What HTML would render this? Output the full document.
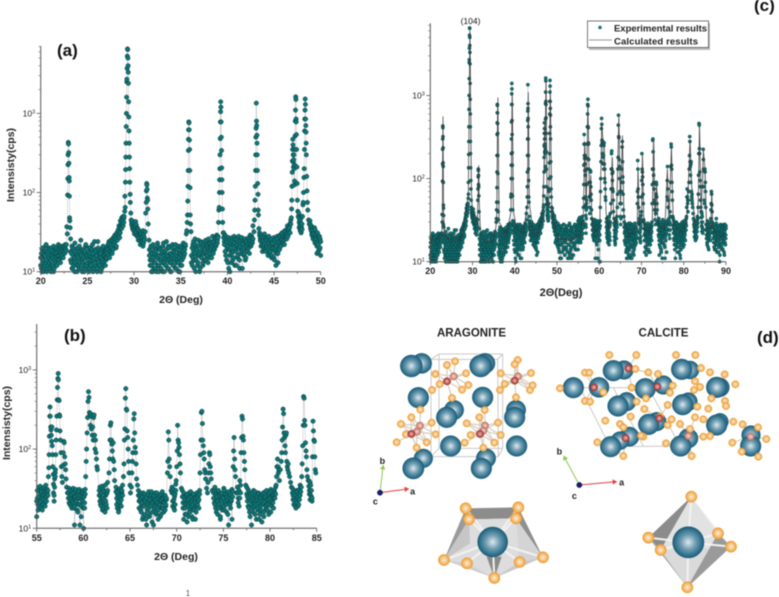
<!DOCTYPE html>
<html lang="en">
<head>
<meta charset="utf-8">
<title>XRD patterns and crystal structures of aragonite and calcite</title>
<style>
html,body{margin:0;padding:0;background:#fff;width:779px;height:597px;overflow:hidden}
svg{display:block;filter:blur(0.4px);font-family:"Liberation Sans",sans-serif}
</style>
</head>
<body>
<svg id="figure" xmlns="http://www.w3.org/2000/svg" width="779" height="597" viewBox="0 0 779 597">
<defs>
<radialGradient id="blueAtom" cx="50%" cy="50%" r="52%"><stop offset="0" stop-color="#dfe9ec"/><stop offset="0.45" stop-color="#6f9db2"/><stop offset="0.85" stop-color="#2b6c88"/><stop offset="1" stop-color="#175670"/></radialGradient>
<radialGradient id="orangeAtom" cx="50%" cy="50%" r="52%"><stop offset="0" stop-color="#fbeedd"/><stop offset="0.55" stop-color="#f6c27d"/><stop offset="1" stop-color="#ee9a2c"/></radialGradient>
<radialGradient id="redAtom" cx="50%" cy="50%" r="52%"><stop offset="0" stop-color="#e8c4c0"/><stop offset="0.6" stop-color="#c0605c"/><stop offset="1" stop-color="#a02c30"/></radialGradient>
<radialGradient id="paleRedAtom" cx="50%" cy="50%" r="52%"><stop offset="0" stop-color="#f0dcd2"/><stop offset="0.6" stop-color="#d99a8c"/><stop offset="1" stop-color="#bf6a60"/></radialGradient>
</defs>
<g id="panel-a"></g>
<g id="panel-b"></g>
<g id="panel-c"></g>
<g id="panel-d" transform="translate(370 310) scale(0.33333)"></g>
<text x="57" y="56" font-size="17" font-weight="bold" fill="#111">(a)</text>
<text x="64" y="341" font-size="17" font-weight="bold" fill="#111">(b)</text>
<text x="754" y="11" font-size="17" font-weight="bold" fill="#111">(c)</text>
<text x="757" y="343" font-size="17" font-weight="bold" fill="#111">(d)</text>
<text x="470.5" y="24" font-size="8.5" text-anchor="middle" fill="#111">(104)</text>
<g>
<rect x="589" y="23" width="121" height="27" fill="#bbb"/>
<rect x="587.5" y="21" width="121" height="26.5" fill="#fff" stroke="#555" stroke-width="0.8"/>
<circle cx="600" cy="27.5" r="1.7" fill="#0e7370"/>
<text x="614" y="31.5" font-size="9.5" font-weight="bold" fill="#222" textLength="93">Experimental results</text>
<line x1="589" y1="40" x2="612" y2="40" stroke="#777" stroke-width="0.8"/>
<text x="614" y="44.5" font-size="9.5" font-weight="bold" fill="#222" textLength="84">Calculated results</text>
</g>
<text x="471.5" y="336.5" font-size="12" font-weight="bold" text-anchor="middle" fill="#222" textLength="69" lengthAdjust="spacingAndGlyphs">ARAGONITE</text>
<text x="663.5" y="336.5" font-size="12" font-weight="bold" text-anchor="middle" fill="#222" textLength="50" lengthAdjust="spacingAndGlyphs">CALCITE</text>
<text x="188" y="596" font-size="8" text-anchor="middle" fill="#555">1</text>
</svg>
<script>
/* ---------- chart a: 20-50 deg ---------- */
const aXTicks = [20,25,30,35,40,45,50];
const aBackgroundStarts = [20,23.2,27,29.75,31.65,36.15,39.6,43.45,47.65,48.85];
const aBackgroundEnds = [22.7,27,28.9,31.1,35.5,39,42.75,46.8,48,50];
const aBackgroundCounts = [
[12,17,10,20,14,11,16,21,13,10,18,12,15,19,11,14,20,16,12,10,17,13,19,15,18,14,22,16,19,17,20,15,21,18,20,17,22,19],
[18,13,21,11,16,19,10,14,17,12,20,15,11,18,13,25,16,10,14,19,12,17,21,11,15,13,18,10,16,20,12,14,22,17,11,15,19,13,16,10,24,14,18,12,17,15,11,20,13,16,18,12,19],
[14,19,17,22,16,23,18,25,20,17,24,27,22,29,26,21,31,28,34,38,27,44,36,48,40,50,42],
[42,36,40,33,38,35,43,31,36,29,34,27,32,30,24,28,26,33,23,27],
[19,14,21,12,17,10,15,20,13,11,18,16,23,12,10,14,19,11,17,13,21,15,10,18,12,24,14,16,11,20,13,17,10,15,22,12,18,14,11,19,16,13,21,10,15,17,12,20,14,18,23,16,19,21],
[13,20,15,24,11,17,22,14,19,12,25,16,10,18,23,15,21,13,17,24,19,14,22,16,20,26,18,15,23,19,21,28,17,24,20,26,22,29,25,28],
[31,24,29,16,26,20,13,27,19,10,23,17,25,14,22,28,12,21,18,26,15,24,20,11,23,17,27,19,22,16,25,14,21,24,18,26,20,23,29,22,27,24,38],
[31,27,24,29,22,26,20,28,23,18,25,21,27,19,24,17,22,26,16,23,20,15,25,18,12,21,28,17,24,20,29,22,26,31,23,28,25,33,27,30,26,38,31,34,36,41,45],
[55,42,38,33,46,31,36,40],
[44,37,33,30,36,27,31,25,34,28,24,17,30,22,27,19,26,16]
];
const aBackgroundCountsSecondSweep = [
[15,11,19,13,10,16,12,18,22,14,11,17,20,13,16,10,12,18,15,21,11,14,17,20,12,16,19,14,21,13,18,16,19,15,21,17,20,18],
[14,17,11,20,12,15,23,13,18,10,16,12,21,14,17,11,19,13,15,10,18,22,12,16,14,20,11,17,13,15,19,10,14,24,12,18,16,11,20,13,17,15,10,19,14,21,12,16,18,15],
[17,15,21,19,24,15,20,22,18,26,19,23,28,24,20,30,25,33,29,36,31,41,35,45,38,47],
[39,44,34,41,30,37,32,39,28,35,25,31,29,22,30,24,27,21,29,25],
[16,12,18,10,14,22,11,17,13,19,10,15,21,12,16,20,11,14,18,10,23,13,16,12,19,15,11,21,14,17,10,13,20,16,12,18,15,22,11,14,19,13,17,10,21,16,12,18,15,20,17,22],
[16,12,22,18,14,26,10,20,16,13,21,17,11,24,15,19,12,22,18,14,25,16,21,13,19,23,17,20,15,24,18,22,19,27,21,25,23,27],
[27,22,18,28,14,24,21,11,25,16,20,13,27,18,15,23,26,19,12,22,16,28,14,21,25,18,11,24,20,17,26,15,23,19,22,27,17,25,21,28,23,26],
[29,25,21,27,18,24,22,30,19,26,20,23,16,28,21,18,25,15,22,19,27,14,20,24,17,26,13,23,19,28,21,25,30,24,27,22,32,26,29,35,28,33,37,31,40],
[48,36,44,35,41,32,50,34],
[40,35,38,29,33,26,30,36,23,29,26,21,31,18,25,28,20,24]
];
const aPeakAngles = [22.75,22.8,22.85,22.88,22.9,22.92,22.94,22.96,22.98,23,23.02,23.04,23.06,23.08,23.1,23.12,23.15,23.2,
28.95,29,29.02,29.05,29.07,29.1,29.12,29.14,29.16,29.18,29.2,29.22,29.24,29.26,29.28,29.3,29.32,29.34,29.36,29.38,29.4,29.42,29.44,29.46,29.48,29.5,29.52,29.55,29.58,29.6,29.65,29.7,
31.2,31.25,31.3,31.33,31.36,31.38,31.4,31.42,31.45,31.48,31.52,31.6,
35.6,35.65,35.7,35.73,35.76,35.78,35.8,35.82,35.84,35.85,35.87,35.89,35.91,35.93,35.95,35.97,36,36.02,36.05,36.1,
39.05,39.08,39.12,39.15,39.17,39.19,39.21,39.23,39.25,39.27,39.29,39.31,39.33,39.35,39.37,39.39,39.41,39.44,39.47,39.5,39.55,
42.85,42.9,42.93,42.96,42.99,43.02,43.04,43.06,43.08,43.1,43.12,43.14,43.16,43.18,43.2,43.22,43.25,43.28,43.3,43.33,43.38,
46.85,46.88,46.9,46.93,46.95,46.97,46.99,47.01,47.03,47.05,47.07,47.09,47.11,47.13,47.15,47.17,47.2,47.22,47.24,47.26,47.28,47.3,47.32,47.34,47.36,47.38,47.4,47.42,47.45,47.48,47.5,47.55,47.6,
48.05,48.1,48.13,48.16,48.2,48.23,48.26,48.28,48.3,48.32,48.34,48.36,48.38,48.4,48.42,48.44,48.46,48.5,48.53,48.57,48.62,48.7,48.78];
const aPeakCounts = [22,37,30,93,150,225,300,430,410,320,235,155,140,90,48,44,36,26,
50,58,90,65,135,195,280,420,680,1000,1600,2500,2700,3700,5300,6500,6400,5000,4000,3300,2400,1400,900,600,420,280,200,135,95,75,55,45,
32,55,75,105,130,125,110,85,80,62,40,25,
30,33,42,52,78,120,190,340,470,620,780,760,620,460,350,190,115,52,40,32,
42,60,65,100,145,200,300,480,780,1050,1400,1200,780,500,340,205,145,100,62,42,31,
32,45,60,80,120,190,300,500,650,1350,800,700,530,420,300,190,130,95,60,52,35,
48,62,80,120,180,250,350,470,400,300,240,210,260,300,200,125,140,220,350,520,800,1100,1620,1500,850,780,540,350,210,130,80,58,50,
50,70,75,100,155,200,350,600,850,1100,1520,1300,850,700,580,420,300,160,105,75,60,45,40];

/* ---------- chart b: 55-85 deg ---------- */
const bXTicks = [55,60,65,70,75,80,85];
const bBackgroundStarts = [55,56.8,58.4,61.7,63.5,65.9,69.5,70.6,73.95,76.5,77.5,82.4,84.15];
const bBackgroundEnds = [56.2,56.98,60.2,62.6,64.2,68.9,69.9,72.45,76,76.85,80.6,83.3,84.5];
const bBackgroundCounts = [
[14,24,20,33,19,27,22,31,17,26,23,29,21,35,25,28,30],
[28,22,42,50],
[28,21,30,24,19,27,22,32,18,25,21,29,23,17,26,20,31,11,24,19,28,22,30,25,18,27],
[30,22,27,19,34,24,18,29,21,16,26,20,28,38],
[33,24,18,29,17,26,21,32,19,28,35],
[30,22,26,17,24,20,13,28,19,23,15,25,11,21,27,18,14,24,20,29,16,22,11,26,19,23,15,28,21,17,25,20,14,27,22,18,24,16,21,26,19,23],
[33,22,28,18,25,20,36],
[30,21,13,25,18,23,15,27,20,14,24,17,29,19,22,13,26,18,24,21,16,28,20,25,23,30],
[28,21,33,18,26,23,15,29,20,24,13,27,22,17,25,19,30,21,26,16,23,28,11,24,20,27,22,13,29],
[33,24,19,40,28],
[33,25,19,29,16,27,22,11,24,18,30,21,15,26,20,23,17,28,13,25,19,22,12,27,21,16,24,29,18,23,20,26,15,28,22,31,19,25,21,27,30,24,33],
[32,26,20,28,22,18,30,24,19,27,23,35,29],
[40,30,23,35,25,22]
];
const bBackgroundCountsSecondSweep = [
[22,30,17,25,21,34,18,29,24,20,27,33,19,28,22,31,26],
[36,26,33,45],
[24,32,20,26,23,18,30,21,28,19,25,31,22,27,16,24,29,20,26,14,23,28,18,25,21,31],
[26,33,20,24,28,17,31,23,19,35,22,27,18,30],
[29,20,27,22,16,31,19,25,23,30,26],
[26,18,23,28,16,21,25,14,19,27,22,13,24,17,20,29,15,23,19,26,12,21,25,18,22,28,16,20,24,13,19,26,22,15,23,29,18,21,25,17,20,24],
[28,19,31,23,17,27,30],
[25,18,28,22,15,20,26,12,23,19,28,16,21,25,14,20,27,17,22,13,24,19,26,22,18,27],
[24,31,20,27,16,25,22,30,18,26,14,23,28,19,24,32,17,22,27,20,25,15,29,21,26,18,23,31,25],
[28,21,30,24,35],
[27,22,31,18,24,14,26,20,28,16,23,19,29,22,13,25,18,27,21,15,24,17,26,20,28,14,22,25,19,30,17,23,27,20,24,16,29,22,26,18,24,28,27],
[28,23,30,24,19,26,21,29,25,20,31,26,33],
[34,27,38,26,30,24]
];
const bPeakAngles = [56.25,56.3,56.33,56.36,56.4,56.43,56.46,56.5,56.53,56.56,56.6,56.63,56.66,56.7,56.73,56.78,
57,57.05,57.08,57.12,57.15,57.2,57.23,57.27,57.3,57.33,57.36,57.4,57.43,57.47,57.5,57.54,57.6,57.65,57.7,57.75,57.8,57.85,57.9,57.95,58,58.05,58.1,58.15,58.2,58.3,
59.05,60.02,60.25,60.3,60.35,60.4,60.45,60.5,60.55,60.6,60.65,60.7,60.75,60.8,60.85,60.9,60.95,61,61.05,61.1,61.15,61.2,61.25,61.3,61.35,61.4,61.45,61.5,
62.75,62.8,62.85,62.9,62.95,63,63.05,63.1,63.15,63.2,63.25,63.3,63.35,
64.3,64.35,64.4,64.45,64.5,64.55,64.6,64.65,64.7,64.75,64.8,64.85,64.9,65,65.05,65.15,65.2,65.25,65.3,65.35,65.4,65.45,65.5,65.55,65.6,65.65,65.7,65.8,
69,69.05,69.1,69.15,69.2,69.25,69.3,69.4,
69.95,70,70.05,70.1,70.15,70.2,70.25,70.3,70.35,70.4,70.5,
72.5,72.55,72.6,72.65,72.7,72.75,72.8,72.85,72.9,72.95,73,73.05,73.1,73.2,73.3,73.35,73.4,73.45,73.5,73.55,73.6,73.65,73.7,73.8,
76.05,76.1,76.15,76.2,76.25,76.3,76.4,
76.9,76.95,77,77.05,77.1,77.15,77.2,77.25,77.3,77.4,
80.65,80.7,80.75,80.8,80.85,80.9,80.95,81,81.1,81.2,81.25,81.3,81.35,81.4,81.45,81.5,81.55,81.6,81.65,81.7,81.75,81.8,81.85,81.9,81.95,82,82.1,82.2,82.3,
83.35,83.4,83.45,83.5,83.55,83.6,83.65,83.7,83.75,83.8,83.85,83.9,83.95,84,84.1,
84.55,84.6,84.65,84.7,84.75,84.8,84.85,84.9];
const bPeakCounts = [45,58,85,145,260,340,260,190,175,150,125,190,110,85,60,48,
55,85,130,175,260,420,600,780,900,750,420,410,270,260,170,130,90,60,45,38,62,90,125,120,80,65,55,42,33,28,
11,10,45,70,100,160,250,400,530,450,290,270,200,280,180,260,150,190,130,250,270,150,100,130,90,75,60,55,
50,75,130,200,215,130,115,95,75,120,70,55,40,
45,65,130,180,440,580,320,310,170,140,100,70,50,35,28,33,50,70,90,130,240,280,160,105,90,65,42,35,
50,70,165,130,75,60,45,30,
40,60,95,200,130,120,105,85,65,50,32,
50,85,130,290,300,210,130,110,90,75,55,50,42,32,28,38,50,65,90,85,60,50,42,30,
60,95,140,75,55,45,28,
90,140,260,240,145,130,90,70,55,35,
35,45,60,75,60,50,55,40,55,70,90,130,190,320,280,160,140,110,90,150,160,70,60,55,65,50,45,38,33,
33,45,65,110,200,460,440,230,200,120,95,80,55,45,40,
80,225,170,130,125,80,55,50];

/* ---------- chart c: 20-90 deg, extra experimental points beyond a and b ---------- */
const cXTicks = [20,30,40,50,60,70,80,90];
const cBackgroundStarts = [50,85.3,86.95];
const cBackgroundEnds = [55,86.3,90];
const cBackgroundCounts = [
[24,17,29,21,14,25,18,11,22,27,16,20,13,24,19,28,15,21,12,25,17,22,14,27,19,11,23,16,20,29,13,18,24,15,21,17,26,19,12,23,16,28,20,14,22,25,18,27,21,31],
[28,21,25,17,31,23,19,27,14,24,20,30,22,18],
[26,19,23,15,28,21,17,25,14,22,33,18,24,16,20,27,13,22,18,25,10,21,16,28,19,23,15,24,20,27,14,22,17,26,19,12,23,28,16,21,25]
];
const cBackgroundCountsSecondSweep = [
[20,26,15,23,18,13,27,21,16,24,11,19,25,17,22,14,28,20,12,18,23,15,26,19,13,21,24,16,11,22,27,18,14,20,25,17,23,12,19,26,15,21,28,17,24,14,20,23,26,28],
[24,19,28,16,26,21,15,25,18,22,29,20,26,23],
[22,28,17,20,25,14,23,19,26,16,29,21,13,24,18,22,27,15,20,25,17,12,23,19,27,21,16,24,14,26,20,18,23,28,13,22,25,17,21,19,27]
];
const cPeakAngles = [23.1,50.8,53,53.5,59.6,60.2,66.5,67,67.7,68.2,74.2,74.9,79.2,85,85.05,85.1,85.15,85.2,86.35,86.4,86.45,86.5,86.55,86.6,86.65,86.7,86.75,86.8,86.9];
const cPeakCounts = [28,11,12,11,11,10,11,12,11,12,12,11,11,130,120,90,70,45,25,33,42,50,70,65,48,40,30,27,26];
const cCalcAngles = [20,22.7,22.85,23,23.15,23.4,26,27.5,28.5,29,29.4,29.75,30,31.1,31.3,31.45,31.6,31.9,33,35,35.7,36,36.3,38,39.1,39.4,39.7,40.5,42,43,43.2,43.45,44.3,45.3,46.5,47,47.1,47.2,47.42,47.7,48,48.43,48.75,49.5,50.5,53,55.5,56.2,56.6,56.9,57.3,57.7,58,58.3,59,60.1,60.6,60.9,61.2,61.6,62.2,62.8,63.1,63.4,64,64.65,65,65.5,65.85,67,69,69.2,69.5,70,70.25,70.6,72,72.55,72.9,73.2,73.6,73.9,75.5,76.1,76.5,77.1,77.5,79,80.7,81,81.5,81.9,82.2,82.6,83.3,83.75,84.1,84.65,85.05,85.4,86.4,86.65,86.9,88,90];
const cCalcCounts = [17,20,40,560,40,20,17,20,38,70,6000,70,42,28,60,145,50,22,17,18,30,950,30,21,40,1100,40,24,22,50,1100,50,24,20,32,200,450,300,1500,50,45,1200,50,25,19,18,21,32,280,45,800,50,110,30,22,26,450,280,260,40,24,40,180,35,28,550,50,330,35,20,28,130,28,30,190,25,22,30,290,35,85,28,24,130,35,240,30,22,30,70,290,80,60,28,28,430,40,220,130,26,25,70,25,21,20];

/* ---------- shared y tick values ---------- */
const yMajorTicks = [10,100,1000];
const yExponents = [1,2,3];
const yMinorFactors = [2,3,4,5,6,7,8,9];

const SVGNS = 'http://www.w3.org/2000/svg';
function add(parent, tag, attrs) {
  const el = document.createElementNS(SVGNS, tag);
  for (const k in attrs) el.setAttribute(k, attrs[k]);
  parent.appendChild(el);
  return el;
}
function buildPoints(starts, ends, sweeps, peakAngles, peakCounts) {
  const pts = [];
  sweeps.forEach(function (counts) {
    counts.forEach(function (seg, s) {
      seg.forEach(function (c, i) {
        pts.push([starts[s] + (ends[s] - starts[s]) * i / Math.max(1, seg.length - 1), c]);
      });
    });
  });
  peakAngles.forEach(function (a, i) { pts.push([a, peakCounts[i]]); });
  return pts.sort(function (p, q) { return p[0] - q[0]; });
}
function drawChart(o) {
  const g = document.getElementById(o.id);
  const x = function (a) { return o.x0 + (a - o.xMin) * (o.x1 - o.x0) / (o.xMax - o.xMin); };
  const y = function (c) { return o.y0 - (Math.log10(c) - 1) * (o.y0 - o.yTop) / (Math.log10(o.yMax) - 1); };

  const link = add(g, 'polyline', {fill:'none', stroke:'#8a8a8a', 'stroke-width':0.6, 'stroke-dasharray':'1 1',
    points:o.points.map(function (p) { return x(p[0]).toFixed(1) + ',' + y(p[1]).toFixed(1); }).join(' ')});
  
  

  o.points.forEach(function (p) {
    const dot = add(g, 'circle', {cx:x(p[0]).toFixed(1), cy:y(p[1]).toFixed(1), r:o.r, fill:'#0f7676', stroke:'#0c3a3c', 'stroke-width':0.5});
    
    
  });

  if (o.calc) {
    const calc = add(g, 'polyline', {fill:'none', stroke:'#3a3a3a', 'stroke-width':0.7,
      points:o.calc[0].map(function (a, i) { return x(a).toFixed(1) + ',' + y(o.calc[1][i]).toFixed(1); }).join(' ')});
    
    
  }

  const yAxis = add(g, 'line', {x1:o.x0, x2:o.x0, y1:o.yTop, y2:o.y0, stroke:'#555', 'stroke-width':1});
  
  
  const xAxis = add(g, 'line', {x1:o.x0, x2:o.x1, y1:o.y0, y2:o.y0, stroke:'#555', 'stroke-width':1});
  
  

  o.xTicks.forEach(function (t, i) {
    const tick = add(g, 'line', {x1:x(t), x2:x(t), y1:o.y0, y2:o.y0 + 3.5, stroke:'#555', 'stroke-width':0.8});
    
    
    const label = add(g, 'text', {x:x(t), y:o.y0 + 12.5, 'font-size':9, 'font-weight':'bold', 'text-anchor':'middle', fill:'#222'});
    label.textContent = t;
    
    
    if (i < o.xTicks.length - 1) {
      const mid = (t + o.xTicks[i + 1]) / 2;
      const minor = add(g, 'line', {x1:x(mid), x2:x(mid), y1:o.y0, y2:o.y0 + 2, stroke:'#555', 'stroke-width':0.7});
      
      
    }
  });

  yMajorTicks.forEach(function (t, i) {
    const tick = add(g, 'line', {x1:o.x0 - 4, x2:o.x0, y1:y(t), y2:y(t), stroke:'#555', 'stroke-width':0.8});
    
    
    const label = add(g, 'text', {x:o.x0 - 5.5, y:y(t) + 3, 'font-size':8.5, 'text-anchor':'end', fill:'#222'});
    
    
    const base = add(label, 'tspan', {});
    base.textContent = '10';
    const sup = add(label, 'tspan', {dy:-3, 'font-size':5.5});
    sup.textContent = yExponents[i];
    yMinorFactors.forEach(function (f) {
      const v = t * f;
      if (v > o.yMax) return;
      const minor = add(g, 'line', {x1:o.x0 - 2.2, x2:o.x0, y1:y(v), y2:y(v), stroke:'#666', 'stroke-width':0.6});
      
      
    });
  });

  const xTitle = add(g, 'text', {x:o.xTitleX, y:o.xTitleY, 'font-size':o.xTitleSize, 'font-weight':'bold', 'text-anchor':'middle', fill:'#222'});
  xTitle.textContent = o.xTitle;
  
  
  if (o.yTitleX) {
    const yTitle = add(g, 'text', {x:o.yTitleX, y:o.yTitleY, 'font-size':10.5, 'font-weight':'bold', 'text-anchor':'middle', fill:'#222',
      transform:'rotate(-90 ' + o.yTitleX + ' ' + o.yTitleY + ')'});
    yTitle.textContent = 'Intensisty(cps)';
    
    
  }
}

const aPoints = buildPoints(aBackgroundStarts, aBackgroundEnds, [aBackgroundCounts, aBackgroundCountsSecondSweep], aPeakAngles, aPeakCounts);
const bPoints = buildPoints(bBackgroundStarts, bBackgroundEnds, [bBackgroundCounts, bBackgroundCountsSecondSweep], bPeakAngles, bPeakCounts);
const cExtraPoints = buildPoints(cBackgroundStarts, cBackgroundEnds, [cBackgroundCounts, cBackgroundCountsSecondSweep], cPeakAngles, cPeakCounts);
const cPoints = aPoints.concat(bPoints, cExtraPoints).sort(function (p, q) { return p[0] - q[0]; });

drawChart({id:'panel-a', prefix:'a', points:aPoints, xTicks:aXTicks, xMin:20, xMax:50, yMax:7100, x0:40.7, x1:320.7, y0:271.7, yTop:46, r:2.2, xTitle:'2\u0398 (Deg)', xTitleX:181, xTitleY:303, xTitleSize:10.5, yTitleX:14, yTitleY:165});
drawChart({id:'panel-b', prefix:'b', points:bPoints, xTicks:bXTicks, xMin:55, xMax:85, yMax:3800, x0:36.7, x1:316.7, y0:528.3, yTop:324, r:2.2, xTitle:'2\u0398 (Deg)', xTitleX:176, xTitleY:560, xTitleSize:10.5, yTitleX:10, yTitleY:423});
drawChart({id:'panel-c', prefix:'c', points:cPoints, calc:[cCalcAngles, cCalcCounts], xTicks:cXTicks, xMin:20, xMax:90, yMax:7400, x0:430.3, x1:726, y0:261.7, yTop:23.3, r:1.6, xTitle:'2\u0398(Deg)', xTitleX:561, xTitleY:296, xTitleSize:11});

/* ---------- panel d: crystal structure drawing (zoomed coordinates) ---------- */
const d = document.getElementById('panel-d');
const boxLines = [[207,132,398,132],[398,132,398,415],[183,148,383,148],[383,148,385,440],[183,148,183,440],[183,440,385,440],[207,132,183,148],[398,132,383,148],[398,415,385,440],[207,415,183,440],[207,132,207,415],[207,415,398,415],
[630,233,835,233],[630,233,720,410],[720,410,935,408],[835,233,930,408],[730,233,820,408]];
const aragoniteBig = [[155,160,30],[124,168,33],[345,160,30],[332,168,33],[145,263,31],[338,262,31],[252,300,29],[230,322,31],[438,300,29],[434,322,31],[242,408,31],[440,408,31],[160,445,28],[130,475,32],[348,445,29],[334,475,31]];
const aragoniteOrange = [[255,154],[231,165],[196,192],[288,190],[209,222],[186,240],[276,239],[295,225],[246,264],[151,299],[344,300],[124,322],[328,322],[93,342],[185,338],[290,340],[384,338],[108,373],[197,373],[80,397],[170,397],[284,398],[302,375],[392,375],[373,398],[140,413],[340,413],[443,150],[434,163],[392,190],[483,189],[404,222],[390,240],[480,240],[488,226],[438,262]];
const aragoniteRed = [[231,214],[434,212],[124,372],[330,372]];
const aragonitePaleRed = [[251,199],[444,199],[150,347],[141,365],[345,347],[340,362]];
const calciteBig = [[762,180,28],[730,182,31],[960,180,27],[935,178,31],[1050,232,28],[1040,232,31],[687,232,30],[610,233,31],[880,225,28],[826,236,31],[770,275,28],[744,288,31],[955,275,27],[938,284,31],[860,335,28],[836,343,31],[1050,335,25],[1040,345,31],[1143,375,28],[1142,408,31],[778,380,29],[750,392,27],[722,410,31],[955,385,29],[932,408,31]];
const calciteOrange = [[718,135],[799,135],[918,135],[976,135],[645,188],[658,188],[796,177],[993,174],[835,187],[864,192],[1020,187],[1064,193],[975,214],[990,231],[1096,223],[570,235],[700,247],[785,233],[908,227],[900,248],[972,240],[645,273],[660,275],[800,275],[828,265],[1024,265],[1065,273],[1068,288],[823,297],[893,285],[982,290],[1015,296],[782,320],[706,332],[905,328],[1000,328],[975,322],[893,345],[930,342],[1090,335],[1118,343],[1164,352],[750,342],[760,352],[960,357],[682,397],[820,380],[888,400],[1000,380],[1020,378],[1087,398],[1189,387],[1115,425],[1165,440],[760,438],[965,438],[813,377],[870,320]];
const calciteRed = [[672,232],[775,175],[862,230],[868,325],[767,384]];
const calcitePaleRed = [[955,378],[1142,380]];
const polyFaces = [
['287,595 445,592 438,625 297,628','#8c8c8c'],['287,595 297,628 222,750','#9a9a9a'],['445,592 438,625 519,742','#8f8f8f'],
['297,628 438,625 519,742 373,804 222,750','#dddddd'],['297,628 222,750 300,700','#c6c6c6'],['222,750 291,760 373,804','#cfcfcf'],['449,756 519,742 373,804','#c9c9c9'],['438,625 519,742 449,756','#d4d4d4'],['350,740 373,804 395,740','#8a8a8a'],
['964,560 835,683 872,720','#8c8c8c'],['964,560 872,720 1083,710 1044,670','#e2e2e2'],['964,560 1044,670 1083,710','#eeeeee'],['872,720 952,832 1083,710','#dadada'],['835,683 872,720 952,832','#b0b0b0'],['952,832 1083,710 1044,670','#9a9a9a']];
const polyBonds = [[368,696,287,595],[368,696,445,592],[368,696,297,628],[368,696,438,625],[368,696,222,750],[368,696,519,742],[368,696,291,760],[368,696,449,756],[368,696,373,804],
[955,697,964,560],[955,697,835,683],[955,697,872,720],[955,697,1044,670],[955,697,1083,710],[955,697,952,832]];
const polyBig = [[368,696,45],[955,697,47]];
const polyOrange = [[287,595],[445,592],[297,628],[438,625],[222,750],[519,742],[291,760],[449,756],[373,804],[964,560],[835,683],[872,720],[1044,670],[1083,710],[952,832]];

boxLines.forEach(function (l) {
  const e = add(d, 'line', {x1:l[0], y1:l[1], x2:l[2], y2:l[3], stroke:'#c8c8c8', 'stroke-width':3});
  
  
});
function bonds(reds, oranges) {
  reds.forEach(function (r) {
    oranges.forEach(function (o) {
      if (Math.hypot(r[0] - o[0], r[1] - o[1]) < 62) {
        const e = add(d, 'line', {x1:r[0], y1:r[1], x2:o[0], y2:o[1], stroke:'#d8d2c4', 'stroke-width':4});
        
        
      }
    });
  });
}
bonds(aragoniteRed.concat(aragonitePaleRed), aragoniteOrange);
bonds(calciteRed.concat(calcitePaleRed), calciteOrange);
function atoms(list, fill, r, stroke, name) {
  list.forEach(function (a) {
    const e = add(d, 'circle', {cx:a[0], cy:a[1], r:a[2] || r, fill:fill, stroke:stroke, 'stroke-width':1.5});
    
    
  });
}
atoms(aragoniteBig, 'url(#blueAtom)', 31, '#1d5a74', 'calcium-atom');
atoms(calciteBig, 'url(#blueAtom)', 31, '#1d5a74', 'calcium-atom');
atoms(aragoniteOrange, 'url(#orangeAtom)', 11, '#ea9a30', 'oxygen-atom');
atoms(calciteOrange, 'url(#orangeAtom)', 11, '#ea9a30', 'oxygen-atom');
atoms(aragonitePaleRed, 'url(#paleRedAtom)', 11, '#b76a60', 'carbon-atom');
atoms(calcitePaleRed, 'url(#paleRedAtom)', 11, '#b76a60', 'carbon-atom');
atoms(aragoniteRed, 'url(#redAtom)', 11, '#9c2a2e', 'carbon-atom');
atoms(calciteRed, 'url(#redAtom)', 11, '#9c2a2e', 'carbon-atom');

polyFaces.forEach(function (f) {
  const e = add(d, 'polygon', {points:f[0], fill:f[1]});
  
  
});
polyBonds.forEach(function (b) {
  const e = add(d, 'line', {x1:b[0], y1:b[1], x2:b[2], y2:b[3], stroke:'#f2f2f2', 'stroke-width':6});
  
  
});
atoms(polyOrange, 'url(#orangeAtom)', 17, '#ea9a30', 'polyhedron-oxygen-atom');
atoms(polyBig, 'url(#blueAtom)', 45, '#1d5a74', 'polyhedron-calcium-atom');

const axisArrows = [[30,548,38,478,'#8cc850'],[30,548,104,538,'#e8403c'],[628,525,587,449,'#8cc850'],[628,525,728,516,'#e8403c']];
const axisOrigins = [[30,548],[628,525]];
const axisLetters = [['b',37,462],['a',128,554],['c',16,583],['b',568,434],['a',755,526],['c',613,567]];
axisArrows.forEach(function (a) {
  const e = add(d, 'line', {x1:a[0], y1:a[1], x2:a[2], y2:a[3], stroke:a[4], 'stroke-width':3});
  
  
  const ang = Math.atan2(a[3] - a[1], a[2] - a[0]);
  const pts = [[a[2] + 14 * Math.cos(ang), a[3] + 14 * Math.sin(ang)], [a[2] + 8 * Math.cos(ang + 1.57), a[3] + 8 * Math.sin(ang + 1.57)], [a[2] - 8 * Math.cos(ang + 1.57), a[3] - 8 * Math.sin(ang + 1.57)]];
  const h = add(d, 'polygon', {points:pts.map(function (p) { return p.join(','); }).join(' '), fill:a[4]});
  
  
});
atoms(axisOrigins, '#1c1c6a', 8, '#1c1c6a', 'crystal-axis-origin');
axisLetters.forEach(function (l) {
  const e = add(d, 'text', {x:l[1], y:l[2], 'font-size':27, 'font-weight':'bold', 'text-anchor':'middle', fill:'#222'});
  e.textContent = l[0];
  
  
});
</script>
</body>
</html>
